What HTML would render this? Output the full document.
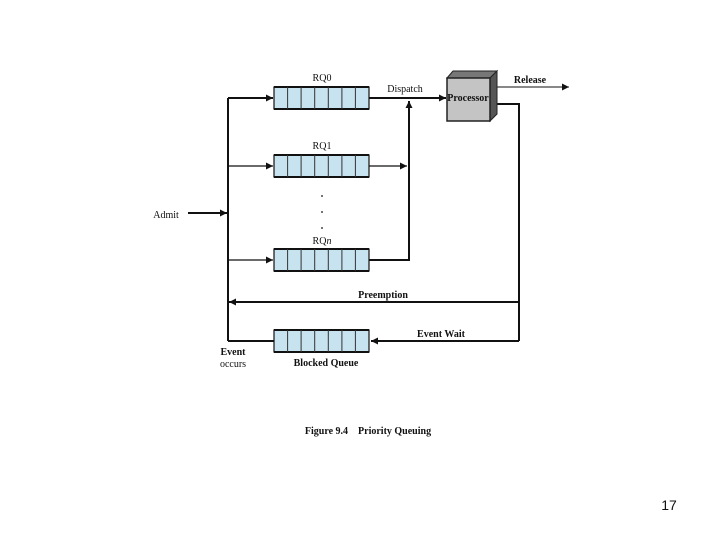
<!DOCTYPE html>
<html><head><meta charset="utf-8"><style>
html,body{margin:0;padding:0;background:#fff;width:720px;height:540px;overflow:hidden}
svg{display:block}
.s{font-family:"Liberation Serif",serif;font-size:10px;fill:#111}
.b{font-weight:bold}
</style></head><body>
<svg width="720" height="540" viewBox="0 0 720 540" xmlns="http://www.w3.org/2000/svg">
<defs>
<marker id="a" viewBox="0 0 10 10" refX="10" refY="5" markerWidth="10" markerHeight="7" markerUnits="userSpaceOnUse" orient="auto"><path d="M0,0L10,5L0,10z" fill="#111"/></marker>
<g id="q">
<rect x="0" y="0" width="95" height="22" fill="#c7e3ef" stroke="#111" stroke-width="1.2"/>
<line x1="0" y1="0" x2="95" y2="0" stroke="#111" stroke-width="2"/>
<line x1="0" y1="22" x2="95" y2="22" stroke="#111" stroke-width="2"/>
<path d="M13.6,0V22M27.1,0V22M40.7,0V22M54.3,0V22M67.9,0V22M81.4,0V22" stroke="#333" stroke-width="1"/>
</g>
</defs>
<g stroke="#111" fill="none" stroke-width="2">
<path d="M228,98V341"/>
<path d="M228,98H273" marker-end="url(#a)"/>
<path d="M228,166H273" marker-end="url(#a)" stroke-width="1.2"/>
<path d="M228,260H273" marker-end="url(#a)" stroke-width="1.2"/>
<path d="M188,213H227" marker-end="url(#a)"/>
<path d="M369,98H446" marker-end="url(#a)"/>
<path d="M369,260H409V101" marker-end="url(#a)"/>
<path d="M369,166H407" marker-end="url(#a)" stroke-width="1.2"/>
<path d="M491,87H569" marker-end="url(#a)" stroke-width="1"/>
<path d="M491,104H519V341"/>
<path d="M519,302H229" marker-end="url(#a)"/>
<path d="M519,341H371" marker-end="url(#a)"/>
<path d="M228,341H274"/>
</g>
<use href="#q" x="274" y="87"/>
<use href="#q" x="274" y="155"/>
<use href="#q" x="274" y="249"/>
<use href="#q" x="274" y="330"/>
<polygon points="447,78 453,71 497,71 490,78" fill="#777" stroke="#222"/>
<polygon points="490,78 497,71 497,114 490,121" fill="#555" stroke="#222"/>
<rect x="447" y="78" width="43" height="43" fill="#c4c4c4" stroke="#222" stroke-width="1.5"/>
<text class="s b" x="468" y="101" text-anchor="middle" font-size="8.5">Processor</text>
<text class="s" x="322" y="81" text-anchor="middle">RQ0</text>
<text class="s" x="322" y="149" text-anchor="middle">RQ1</text>
<text class="s" x="322" y="244" text-anchor="middle">RQ<tspan font-style="italic">n</tspan></text>
<circle cx="322" cy="196" r="0.9" fill="#111"/><circle cx="322" cy="212" r="0.9" fill="#111"/><circle cx="322" cy="228" r="0.9" fill="#111"/>
<text class="s" x="405" y="92" text-anchor="middle">Dispatch</text>
<text class="s b" x="530" y="83" text-anchor="middle">Release</text>
<text class="s" x="166" y="218" text-anchor="middle">Admit</text>
<text class="s b" x="383" y="298" text-anchor="middle">Preemption</text>
<text class="s b" x="441" y="337" text-anchor="middle">Event Wait</text>
<text class="s b" x="233" y="355" text-anchor="middle">Event</text>
<text class="s" x="233" y="367" text-anchor="middle">occurs</text>
<text class="s b" x="326" y="366" text-anchor="middle">Blocked Queue</text>
<text class="s b" x="368" y="434" text-anchor="middle" font-size="12.5">Figure 9.4&#160;&#160;&#160; Priority Queuing</text>
<text x="669" y="510" text-anchor="middle" font-family="Liberation Sans,sans-serif" font-size="14" fill="#111">17</text>
</svg>
</body></html>
